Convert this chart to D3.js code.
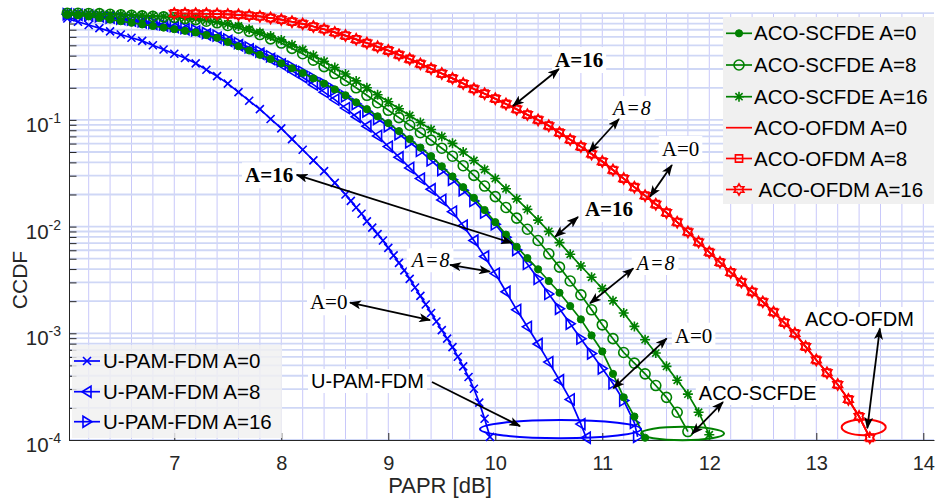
<!DOCTYPE html>
<html>
<head>
<meta charset="utf-8">
<script src="https://cdn.jsdelivr.net/npm/d3@7"></script>
<style>
  body { margin: 0; background: #fff; }
  svg { display: block; }
  text { white-space: pre; }
</style>
</head>
<body>
<svg id="chart" width="936" height="500"></svg>
<script>
// ---- CCDF of PAPR, pairs of [PAPR (dB), CCDF] ----
const upamA0 = [[6.0,0.891],[6.1,0.832],[6.2,0.776],[6.3,0.724],[6.4,0.676],[6.5,0.631],[6.6,0.589],[6.7,0.550],[6.8,0.501],[6.9,0.457],[7.0,0.417],[7.1,0.380],[7.2,0.339],[7.3,0.295],[7.4,0.257],[7.5,0.219],[7.6,0.182],[7.7,0.151],[7.8,0.126],[7.9,0.102],[8.0,0.0832],[8.1,0.0661],[8.2,0.0525],[8.3,0.0417],[8.4,0.0331],[8.5,0.0257],[8.6,0.0200],[8.65,0.0174],[8.7,0.0151],[8.75,0.0132],[8.8,0.0112],[8.85,0.00977],[8.9,0.00851],[8.95,0.00741],[9.0,0.00631],[9.05,0.00537],[9.1,0.00457],[9.15,0.00389],[9.2,0.00324],[9.25,0.00269],[9.3,0.00224],[9.35,0.00186],[9.4,0.00155],[9.45,0.00129],[9.5,0.00107],[9.55,0.000891],[9.6,0.000741],[9.65,0.000603],[9.7,0.000490],[9.75,0.000389],[9.8,0.000302],[9.85,0.000224],[9.9,0.000158],[9.95,0.000107]];

const upamA8 = [[6.0,0.977],[6.1,0.966],[6.2,0.955],[6.3,0.933],[6.4,0.912],[6.5,0.881],[6.6,0.851],[6.7,0.822],[6.8,0.794],[6.9,0.767],[7.0,0.741],[7.1,0.708],[7.2,0.676],[7.3,0.631],[7.4,0.589],[7.5,0.550],[7.6,0.501],[7.7,0.457],[7.8,0.417],[7.9,0.372],[8.0,0.331],[8.1,0.288],[8.2,0.251],[8.3,0.214],[8.4,0.182],[8.5,0.155],[8.6,0.129],[8.7,0.107],[8.8,0.0871],[8.9,0.0708],[9.0,0.0562],[9.1,0.0447],[9.2,0.0355],[9.3,0.0282],[9.4,0.0224],[9.5,0.0178],[9.6,0.0138],[9.7,0.0102],[9.8,0.00741],[9.9,0.00525],[10.0,0.00363],[10.1,0.00245],[10.2,0.00166],[10.3,0.00115],[10.4,0.000794],[10.5,0.000537],[10.6,0.000363],[10.7,0.000240],[10.8,0.000141],[10.85,0.000105]];

const upamA16 = [[6.0,0.977],[6.1,0.966],[6.2,0.955],[6.3,0.933],[6.4,0.912],[6.5,0.891],[6.6,0.871],[6.7,0.841],[6.8,0.813],[6.9,0.785],[7.0,0.759],[7.1,0.724],[7.2,0.692],[7.3,0.653],[7.4,0.617],[7.5,0.569],[7.6,0.525],[7.7,0.479],[7.8,0.437],[7.9,0.394],[8.0,0.355],[8.1,0.316],[8.2,0.282],[8.3,0.248],[8.4,0.219],[8.5,0.191],[8.6,0.166],[8.7,0.141],[8.8,0.120],[8.9,0.102],[9.0,0.0871],[9.1,0.0733],[9.2,0.0617],[9.3,0.0513],[9.4,0.0417],[9.5,0.0339],[9.6,0.0275],[9.7,0.0219],[9.8,0.0174],[9.9,0.0135],[10.0,0.0105],[10.1,0.00794],[10.2,0.00603],[10.3,0.00447],[10.4,0.00324],[10.5,0.00234],[10.6,0.00170],[10.7,0.00123],[10.8,0.000891],[10.9,0.000646],[11.0,0.000468],[11.1,0.000339],[11.2,0.000234],[11.3,0.000145],[11.33,0.000107]];

const scfdeA0 = [[6.0,0.977],[6.1,0.955],[6.2,0.933],[6.3,0.902],[6.4,0.871],[6.5,0.841],[6.6,0.813],[6.7,0.785],[6.8,0.759],[6.9,0.733],[7.0,0.708],[7.1,0.684],[7.2,0.661],[7.3,0.624],[7.4,0.589],[7.5,0.537],[7.6,0.490],[7.7,0.447],[7.8,0.407],[7.9,0.372],[8.0,0.339],[8.1,0.305],[8.2,0.275],[8.3,0.245],[8.4,0.219],[8.5,0.193],[8.6,0.170],[8.7,0.146],[8.8,0.126],[8.9,0.108],[9.0,0.0933],[9.1,0.0785],[9.2,0.0661],[9.3,0.0550],[9.4,0.0457],[9.5,0.0367],[9.6,0.0295],[9.7,0.0234],[9.8,0.0186],[9.9,0.0143],[10.0,0.0110],[10.1,0.00841],[10.2,0.00646],[10.3,0.00507],[10.4,0.00398],[10.5,0.00309],[10.6,0.00240],[10.7,0.00180],[10.8,0.00135],[10.9,0.000955],[11.0,0.000676],[11.1,0.000417],[11.2,0.000251],[11.3,0.000166],[11.4,0.000105]];

const scfdeA8 = [[6.0,1.0],[6.1,0.998],[6.2,0.995],[6.3,0.991],[6.4,0.977],[6.5,0.966],[6.6,0.955],[6.7,0.944],[6.8,0.933],[6.9,0.923],[7.0,0.912],[7.1,0.891],[7.2,0.871],[7.3,0.841],[7.4,0.813],[7.5,0.767],[7.6,0.724],[7.7,0.676],[7.8,0.631],[7.9,0.575],[8.0,0.525],[8.1,0.468],[8.2,0.417],[8.3,0.363],[8.4,0.316],[8.5,0.272],[8.6,0.234],[8.7,0.200],[8.8,0.170],[8.9,0.145],[9.0,0.123],[9.1,0.105],[9.2,0.0891],[9.3,0.0759],[9.4,0.0646],[9.5,0.0543],[9.6,0.0457],[9.7,0.0372],[9.8,0.0302],[9.9,0.0240],[10.0,0.0191],[10.1,0.0151],[10.2,0.0120],[10.3,0.00944],[10.4,0.00741],[10.5,0.00556],[10.6,0.00417],[10.7,0.00309],[10.8,0.00229],[10.9,0.00166],[11.0,0.00120],[11.1,0.000891],[11.2,0.000661],[11.3,0.000525],[11.4,0.000417],[11.5,0.000324],[11.6,0.000251],[11.7,0.000182],[11.8,0.000120]];

const scfdeA16 = [[6.0,1.0],[6.1,0.999],[6.2,0.995],[6.3,0.991],[6.4,0.984],[6.5,0.977],[6.6,0.966],[6.7,0.955],[6.8,0.944],[6.9,0.933],[7.0,0.923],[7.1,0.902],[7.2,0.891],[7.3,0.861],[7.4,0.832],[7.5,0.794],[7.6,0.759],[7.7,0.708],[7.8,0.661],[7.9,0.610],[8.0,0.562],[8.1,0.507],[8.2,0.457],[8.3,0.403],[8.4,0.355],[8.5,0.309],[8.6,0.269],[8.7,0.232],[8.8,0.200],[8.9,0.172],[9.0,0.148],[9.1,0.127],[9.2,0.110],[9.3,0.0944],[9.4,0.0813],[9.5,0.0700],[9.6,0.0603],[9.7,0.0501],[9.8,0.0417],[9.9,0.0343],[10.0,0.0282],[10.1,0.0226],[10.2,0.0182],[10.3,0.0145],[10.4,0.0115],[10.5,0.00902],[10.6,0.00708],[10.7,0.00550],[10.8,0.00427],[10.9,0.00335],[11.0,0.00263],[11.1,0.00202],[11.2,0.00155],[11.3,0.00116],[11.4,0.000871],[11.5,0.000653],[11.6,0.000490],[11.7,0.000363],[11.8,0.000269],[11.9,0.000182],[12.0,0.000112]];

// the three ACO-OFDM curves coincide
const ofdmA0 = [[7.0,0.995],[7.1,0.994],[7.2,0.991],[7.3,0.988],[7.4,0.982],[7.5,0.975],[7.6,0.966],[7.7,0.950],[7.8,0.933],[7.9,0.902],[8.0,0.871],[8.1,0.832],[8.2,0.794],[8.3,0.750],[8.4,0.708],[8.5,0.661],[8.6,0.617],[8.7,0.569],[8.8,0.525],[8.9,0.484],[9.0,0.447],[9.1,0.407],[9.2,0.372],[9.3,0.335],[9.4,0.302],[9.5,0.272],[9.6,0.245],[9.7,0.219],[9.8,0.195],[9.9,0.176],[10.0,0.158],[10.1,0.141],[10.2,0.126],[10.3,0.112],[10.4,0.100],[10.5,0.0881],[10.6,0.0759],[10.7,0.0653],[10.8,0.0562],[10.9,0.0479],[11.0,0.0407],[11.1,0.0339],[11.2,0.0282],[11.3,0.0234],[11.4,0.0195],[11.5,0.0162],[11.6,0.0135],[11.7,0.0110],[11.8,0.00891],[11.9,0.00716],[12.0,0.00575],[12.1,0.00462],[12.2,0.00372],[12.3,0.00302],[12.4,0.00245],[12.5,0.00197],[12.6,0.00158],[12.7,0.00126],[12.8,0.00100],[12.9,0.000750],[13.0,0.000562],[13.1,0.000427],[13.2,0.000331],[13.3,0.000240],[13.4,0.000166],[13.5,0.000105]];
const ofdmA8 = ofdmA0.map(d => d.slice());
const ofdmA16 = ofdmA0.map(d => d.slice());

// axis ticks
const xTicks = [7, 8, 9, 10, 11, 12, 13, 14];
const yTickExps = [-4, -3, -2, -1];

// series definitions
const BLUE = "#0000ff", GREEN = "#008000", RED = "#ff0000";
const leftSeries = [
  { name: "U-PAM-FDM A=0",  data: upamA0,  color: BLUE, marker: "x" },
  { name: "U-PAM-FDM A=8",  data: upamA8,  color: BLUE, marker: "tl" },
  { name: "U-PAM-FDM A=16", data: upamA16, color: BLUE, marker: "tr" }
];
const rightSeries = [
  { name: "ACO-SCFDE A=0",  data: scfdeA0,  color: GREEN, marker: "dot" },
  { name: "ACO-SCFDE A=8",  data: scfdeA8,  color: GREEN, marker: "o" },
  { name: "ACO-SCFDE A=16", data: scfdeA16, color: GREEN, marker: "star" },
  { name: "ACO-OFDM A=0",   data: ofdmA0,   color: RED,   marker: "none" },
  { name: "ACO-OFDM A=8",   data: ofdmA8,   color: RED,   marker: "sq" },
  { name: " ACO-OFDM A=16", data: ofdmA16,  color: RED,   marker: "hex" }
];

// annotation texts: [text, kind, PAPR, CCDF] (baseline start)
const noteLabels = [
  ["A=16", "bold", 10.558, 0.313],
  ["A=8", "italic", 11.100, 0.111],
  ["A=0", "plain", 11.556, 0.0459],
  ["A=16", "bold", 10.838, 0.01256],
  ["A=8", "italic", 11.322, 0.00392],
  ["A=0", "plain", 11.678, 0.000816],
  ["A=16", "bold", 7.661, 0.0260],
  ["A=8", "italic", 9.219, 0.00416],
  ["A=0", "plain", 8.268, 0.00168],
  ["U-PAM-FDM", "sans", 8.278, 0.000307],
  ["ACO-SCFDE", "sans", 11.902, 0.000237],
  ["ACO-OFDM", "sans", 12.894, 0.00117]
];
// arrows: [PAPR1, CCDF1, PAPR2, CCDF2, double-headed]
const noteArrows = [
  [10.595, 0.300, 10.165, 0.135, true],
  [11.156, 0.102, 10.876, 0.0500, true],
  [11.651, 0.0378, 11.446, 0.0191, true],
  [10.773, 0.0123, 10.558, 0.0080, true],
  [11.290, 0.00406, 10.885, 0.00191, true],
  [11.602, 0.000897, 11.103, 0.000305, true],
  [8.144, 0.0305, 10.157, 0.00702, true],
  [9.577, 0.00437, 9.950, 0.00379, true],
  [8.642, 0.00194, 9.390, 0.00133, true],
  [9.408, 0.000350, 10.231, 0.000135, false],
  [12.128, 0.000227, 11.838, 0.000114, true],
  [13.594, 0.00111, 13.477, 0.000129, true]
];
// ellipses around the tails: [PAPR left, PAPR right, CCDF low, CCDF high, colour]
const noteEllipses = [
  [9.857, 11.362, 1.04e-4, 1.54e-4, BLUE],
  [11.362, 12.138, 0.993e-4, 1.33e-4, GREEN],
  [13.237, 13.649, 1.11e-4, 1.56e-4, RED]
];

// ---- layout ----
const svg = d3.select("#chart");
const plot = { left: 69, right: 934, top: 13.2, bottom: 440 };
const x = d3.scaleLinear().domain([6.016, 14.1]).range([plot.left, plot.right]);
const y = d3.scaleLog().domain([1e-4, 1]).range([plot.bottom, plot.top]);
const SANS = "'Liberation Sans', Arial, Helvetica, sans-serif";
const SERIF = "'Liberation Serif', 'Times New Roman', serif";
const AXC = "#262626";

const defs = svg.append("defs");
defs.append("clipPath").attr("id", "plotClip")
  .append("rect").attr("x", plot.left).attr("y", plot.top - 1)
  .attr("width", plot.right - plot.left).attr("height", plot.bottom - plot.top + 1);
defs.append("marker").attr("id", "arrowHead")
  .attr("viewBox", "0 0 12 9").attr("refX", 11).attr("refY", 4.5)
  .attr("markerWidth", 12).attr("markerHeight", 9)
  .attr("markerUnits", "userSpaceOnUse").attr("orient", "auto-start-reverse")
  .append("path").attr("d", "M0,0 L12,4.5 L0,9 L3,4.5 Z").attr("fill", "#000");

// ---- grid ----
const grid = svg.append("g");
const xGrid = d3.range(6.2, 14.05, 0.2);
grid.selectAll("line.vx").data(xGrid).join("line")
  .attr("x1", d => x(d)).attr("x2", d => x(d))
  .attr("y1", plot.top).attr("y2", plot.bottom)
  .attr("stroke", "#c8c8fa").attr("stroke-width", 1);
const yGrid = [];
yTickExps.forEach(e => { for (let k = 1; k <= 9; k++) yGrid.push(k * Math.pow(10, e)); });
yGrid.push(1);
grid.selectAll("line.hy").data(yGrid).join("line")
  .attr("x1", plot.left).attr("x2", plot.right)
  .attr("y1", d => y(d)).attr("y2", d => y(d))
  .attr("stroke", "#cfd7f6").attr("stroke-width", 1.8);

// ---- axes ----
const xAxis = svg.append("g").attr("transform", `translate(0,${plot.bottom})`)
  .call(d3.axisBottom(x).tickValues(xTicks).tickSize(-7).tickSizeOuter(0).tickPadding(16));
xAxis.select(".domain").attr("stroke", AXC);
xAxis.selectAll(".tick line").attr("stroke", AXC);
xAxis.selectAll(".tick text").attr("font-family", SANS).attr("font-size", 20).attr("fill", AXC);

const yAxis = svg.append("g").attr("transform", `translate(${plot.left},0)`)
  .call(d3.axisLeft(y).tickValues(yGrid.filter(v => v < 1)).tickSize(-7.5).tickSizeOuter(0).tickFormat(""));
yAxis.select(".domain").attr("stroke", AXC);
yAxis.selectAll(".tick line").attr("stroke", AXC);

const yLab = svg.append("g");
yTickExps.forEach(e => {
  const ty = y(Math.pow(10, e));
  const t = yLab.append("text").attr("x", 61).attr("y", ty + 12)
    .attr("text-anchor", "end").attr("font-family", SANS).attr("fill", AXC).attr("font-size", 20.5);
  t.append("tspan").text("10");
  t.append("tspan").attr("dy", -9).attr("font-size", 14).text("-" + Math.abs(e));
});

svg.append("text").attr("x", 440).attr("y", 493)
  .attr("text-anchor", "middle").attr("font-family", SANS).attr("font-size", 22).attr("fill", AXC)
  .text("PAPR [dB]");
svg.append("text").attr("transform", "translate(27,280) rotate(-90)")
  .attr("text-anchor", "middle").attr("font-family", SANS).attr("font-size", 21).attr("fill", AXC)
  .text("CCDF");

// ---- marker shapes ----
function hexPath(R, r) {
  const pts = [];
  for (let i = 0; i < 12; i++) {
    const a = -Math.PI / 2 + i * Math.PI / 6;
    const rr = i % 2 === 0 ? R : r;
    pts.push([rr * Math.cos(a), rr * Math.sin(a)]);
  }
  return "M" + pts.map(p => p[0].toFixed(2) + "," + p[1].toFixed(2)).join("L") + "Z";
}
const markerShapes = {
  x: "M-4,-4L4,4M-4,4L4,-4",
  tl: "M4,-5.5L-5,0L4,5.5Z",
  tr: "M-4,-5.5L5,0L-4,5.5Z",
  star: "M-5,0L5,0M0,-5L0,5M-3.6,-3.6L3.6,3.6M-3.6,3.6L3.6,-3.6",
  sq: "M-3.6,-3.6H3.6V3.6H-3.6Z",
  hex: hexPath(5.6, 3.2)
};
function drawMarker(sel, type, color) {
  if (type === "none") return;
  if (type === "dot") {
    sel.append("circle").attr("r", 3.6).attr("fill", color).attr("stroke", color).attr("stroke-width", 1);
  } else if (type === "o") {
    sel.append("circle").attr("r", 5).attr("fill", "none").attr("stroke", color).attr("stroke-width", 1.6);
  } else {
    sel.append("path").attr("d", markerShapes[type]).attr("fill", "none")
      .attr("stroke", color).attr("stroke-width", 1.6).attr("stroke-linejoin", "miter");
  }
}

// ---- curves ----
const lineGen = d3.line().x(d => x(d[0])).y(d => y(d[1]));
const curves = svg.append("g");
[...leftSeries, ...rightSeries].forEach(s => {
  curves.append("path").datum(s.data).attr("d", lineGen)
    .attr("fill", "none").attr("stroke", s.color).attr("stroke-width", 1.7)
    .attr("clip-path", "url(#plotClip)");
  if (s.marker !== "none") {
    curves.append("g").selectAll("g").data(s.data).join("g")
      .attr("transform", d => `translate(${x(d[0])},${y(d[1])})`)
      .each(function () { drawMarker(d3.select(this), s.marker, s.color); });
  }
});

// ---- ellipses ----
svg.append("g").selectAll("ellipse").data(noteEllipses).join("ellipse")
  .attr("cx", d => (x(d[0]) + x(d[1])) / 2)
  .attr("cy", d => (y(d[2]) + y(d[3])) / 2)
  .attr("rx", d => (x(d[1]) - x(d[0])) / 2)
  .attr("ry", d => (y(d[2]) - y(d[3])) / 2)
  .attr("fill", "none").attr("stroke", d => d[4]).attr("stroke-width", 2);

// ---- annotation labels (white box behind) ----
const notes = svg.append("g");
noteLabels.forEach(n => {
  const g = notes.append("g");
  const t = g.append("text").attr("x", x(n[2])).attr("y", y(n[3])).attr("fill", "#000").text(n[0]);
  if (n[1] === "sans") t.attr("font-family", SANS).attr("font-size", 20);
  else {
    t.attr("font-family", SERIF).attr("font-size", 21);
    if (n[1] === "bold") t.attr("font-weight", "bold");
    if (n[1] === "italic") t.attr("font-style", "italic").attr("font-size", 20).attr("letter-spacing", 1);
  }
  const b = t.node().getBBox();
  g.insert("rect", "text").attr("x", b.x - 3).attr("y", b.y - 1)
    .attr("width", b.width + 6).attr("height", b.height + 2).attr("fill", "#fff");
});

// ---- arrows ----
svg.append("g").selectAll("line").data(noteArrows).join("line")
  .attr("x1", d => x(d[0])).attr("y1", d => y(d[1]))
  .attr("x2", d => x(d[2])).attr("y2", d => y(d[3]))
  .attr("stroke", "#000").attr("stroke-width", 1.8)
  .attr("marker-end", "url(#arrowHead)")
  .attr("marker-start", d => d[4] ? "url(#arrowHead)" : null);

// ---- legends ----
function legend(items, box, rowY, sampleX, textX, fillOpacity) {
  const g = svg.append("g");
  g.append("rect").attr("x", box[0]).attr("y", box[1]).attr("width", box[2]).attr("height", box[3])
    .attr("fill", "#f0f0f0").attr("fill-opacity", fillOpacity);
  items.forEach((s, i) => {
    const cy = rowY[i];
    g.append("line").attr("x1", sampleX[0]).attr("x2", sampleX[1]).attr("y1", cy).attr("y2", cy)
      .attr("stroke", s.color).attr("stroke-width", 1.7);
    const m = g.append("g").attr("transform", `translate(${(sampleX[0] + sampleX[1]) / 2},${cy})`);
    drawMarker(m, s.marker, s.color);
    g.append("text").attr("x", textX).attr("y", cy).attr("dy", "0.35em")
      .attr("font-family", SANS).attr("font-size", 20.5).attr("fill", "#000").text(s.name);
  });
}
legend(rightSeries, [723, 17, 211, 187], [33.3, 65, 96.7, 127.7, 158.5, 189.5], [726, 752], 754, 1);
legend(leftSeries, [72, 345, 210, 93], [361, 391.7, 421.7], [74, 100], 103, 0.82);
</script>
</body>
</html>
